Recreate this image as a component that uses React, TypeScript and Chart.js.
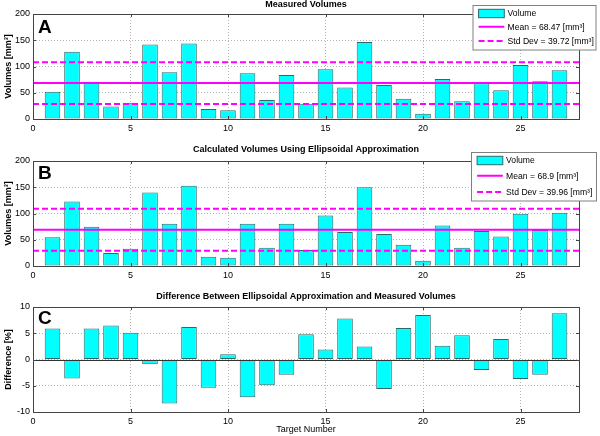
import React, { useEffect, useRef } from "react";
import { Chart, registerables } from "chart.js";

Chart.register(...registerables);

const FONT = "'Liberation Sans', Arial, Helvetica, sans-serif";

const targets = [1, 2, 3, 4, 5, 6, 7, 8, 9, 10, 11, 12, 13, 14, 15, 16, 17, 18, 19, 20, 21, 22, 23, 24, 25, 26, 27];
const measuredVolumes = [52, 128, 71, 24, 31, 142, 89, 144, 19, 16.5, 87, 36, 84, 29, 94.6, 60, 146.7, 64.8, 38.7, 10, 76, 34, 68, 55, 103, 72, 93];
const calculatedVolumes = [55, 123, 75, 25, 33, 140, 80.6, 153, 17.8, 15.9, 80.6, 35, 80.6, 30.5, 96, 65, 150, 61, 40.6, 10, 77, 35, 66.7, 56, 99.7, 68.6, 101.6];
const differencePct = [5.9, -3.6, 5.9, 6.5, 5.1, -0.9, -8.4, 6.2, -5.4, 1.0, -7.2, -4.9, -2.9, 4.8, 1.9, 7.8, 2.5, -5.6, 6.0, 8.5, 2.6, 4.6, -2.0, 3.9, -3.7, -2.9, 8.8];
const measuredMean = 68.47;
const measuredStd = 39.72;
const calculatedMean = 68.9;
const calculatedStd = 39.96;
const xTickValues = [0, 5, 10, 15, 20, 25];

type LegendSpec = { x: number; y: number; w: number; h: number; meanText: string; stdText: string };

type PanelSpec = {
  top: number;
  height: number;
  areaTop: number;
  areaBottom: number;
  title: string;
  titleY: number;
  letter: string;
  letterY: number;
  yMin: number;
  yMax: number;
  yStep: number;
  yTitle: string;
  values: number[];
  mean?: number;
  std?: number;
  legend?: LegendSpec;
  xTitle?: string;
  xTitleY?: number;
  zeroLine?: boolean;
};

const panels: PanelSpec[] = [
  {
    top: 0, height: 140, areaTop: 14, areaBottom: 119,
    title: "Measured Volumes", titleY: 5, letter: "A", letterY: 33,
    yMin: 0, yMax: 200, yStep: 50, yTitle: "Volumes [mm\u00B3]",
    values: measuredVolumes, mean: measuredMean, std: measuredStd,
    legend: { x: 473, y: 5.5, w: 123, h: 44.5, meanText: `Mean = ${measuredMean} [mm\u00B3]`, stdText: `Std Dev = ${measuredStd} [mm\u00B3]` },
  },
  {
    top: 140, height: 140, areaTop: 21, areaBottom: 126,
    title: "Calculated Volumes Using Ellipsoidal Approximation", titleY: 10, letter: "B", letterY: 39,
    yMin: 0, yMax: 200, yStep: 50, yTitle: "Volumes [mm\u00B3]",
    values: calculatedVolumes, mean: calculatedMean, std: calculatedStd,
    legend: { x: 471.5, y: 12.5, w: 125, h: 48.5, meanText: `Mean = ${calculatedMean} [mm\u00B3]`, stdText: `Std Dev = ${calculatedStd} [mm\u00B3]` },
  },
  {
    top: 280, height: 156, areaTop: 27, areaBottom: 132,
    title: "Difference Between Ellipsoidal Approximation and Measured Volumes", titleY: 17, letter: "C", letterY: 44,
    yMin: -10, yMax: 10, yStep: 5, yTitle: "Difference [%]",
    values: differencePct, xTitle: "Target Number", xTitleY: 150, zeroLine: true,
  },
];

const CYAN = "#00ffff";
const EDGE = "#2c6a6a";
const MAGENTA = "#ff00ff";

function makeDecor(spec: PanelSpec) {
  return {
    id: "decor" + spec.letter,
    afterDatasetsDraw(chart: any) {
      const { ctx, chartArea: a, scales } = chart;
      if (spec.zeroLine) {
        const y0 = Math.round(scales.y.getPixelForValue(0)) + 0.5;
        ctx.save();
        ctx.strokeStyle = "#333";
        ctx.lineWidth = 1;
        ctx.beginPath();
        ctx.moveTo(a.left, y0);
        ctx.lineTo(a.right, y0);
        ctx.stroke();
        ctx.restore();
      }
    },
    afterDraw(chart: any) {
      const { ctx, chartArea: a, scales } = chart;
      ctx.save();
      ctx.strokeStyle = "#444";
      ctx.lineWidth = 1;
      ctx.strokeRect(Math.round(a.left) + 0.5, Math.round(a.top) + 0.5, Math.round(a.right - a.left), Math.round(a.bottom - a.top));
      ctx.beginPath();
      xTickValues.forEach((v) => {
        const x = Math.round(scales.x.getPixelForValue(v)) + 0.5;
        ctx.moveTo(x, a.bottom);
        ctx.lineTo(x, a.bottom - 3);
        ctx.moveTo(x, a.top);
        ctx.lineTo(x, a.top + 3);
      });
      for (let v = spec.yMin; v <= spec.yMax; v += spec.yStep) {
        const y = Math.round(scales.y.getPixelForValue(v)) + 0.5;
        ctx.moveTo(a.left, y);
        ctx.lineTo(a.left + 3, y);
        ctx.moveTo(a.right, y);
        ctx.lineTo(a.right - 3, y);
      }
      ctx.stroke();

      ctx.fillStyle = "#000";
      ctx.font = `bold 9px ${FONT}`;
      ctx.textAlign = "center";
      ctx.textBaseline = "middle";
      ctx.fillText(spec.title, (a.left + a.right) / 2, spec.titleY);
      ctx.font = `bold 19px ${FONT}`;
      ctx.textAlign = "left";
      ctx.textBaseline = "alphabetic";
      ctx.fillText(spec.letter, 38, spec.letterY);
      ctx.save();
      ctx.translate(8.5, (a.top + a.bottom) / 2);
      ctx.rotate(-Math.PI / 2);
      ctx.font = `bold 9px ${FONT}`;
      ctx.textAlign = "center";
      ctx.textBaseline = "middle";
      ctx.fillText(spec.yTitle, 0, 0);
      ctx.restore();
      if (spec.xTitle) {
        ctx.font = `9px ${FONT}`;
        ctx.textAlign = "center";
        ctx.textBaseline = "middle";
        ctx.fillText(spec.xTitle, (a.left + a.right) / 2, spec.xTitleY as number);
      }
      const lg = spec.legend;
      if (lg) {
        ctx.fillStyle = "#fff";
        ctx.fillRect(lg.x, lg.y, lg.w, lg.h);
        ctx.strokeStyle = "#808080";
        ctx.lineWidth = 1;
        ctx.strokeRect(lg.x, lg.y, lg.w, lg.h);
        const px = lg.x + 5.6;
        const tx = lg.x + 34.6;
        const rowStep = (lg.h - 16) / 2;
        const r1 = lg.y + 8;
        const r2 = r1 + rowStep;
        const r3 = r2 + rowStep;
        ctx.fillStyle = CYAN;
        ctx.fillRect(px, r1 - 4.2, 25.7, 8.4);
        ctx.strokeStyle = EDGE;
        ctx.strokeRect(px, r1 - 4.2, 25.7, 8.4);
        ctx.strokeStyle = MAGENTA;
        ctx.lineWidth = 2;
        ctx.beginPath();
        ctx.moveTo(px, r2 - 1);
        ctx.lineTo(px + 25.7, r2 - 1);
        ctx.stroke();
        ctx.setLineDash([6, 3]);
        ctx.beginPath();
        ctx.moveTo(px, r3 - 1);
        ctx.lineTo(px + 25.7, r3 - 1);
        ctx.stroke();
        ctx.setLineDash([]);
        ctx.fillStyle = "#000";
        ctx.font = `8.6px ${FONT}`;
        ctx.textAlign = "left";
        ctx.textBaseline = "middle";
        ctx.fillText("Volume", tx, r1);
        ctx.fillText(lg.meanText, tx, r2);
        ctx.fillText(lg.stdText, tx, r3);
      }
      ctx.restore();
    },
  };
}

function Panel({ spec }: { spec: PanelSpec }) {
  const ref = useRef<HTMLCanvasElement | null>(null);
  useEffect(() => {
    if (!ref.current) return;
    const datasets: any[] = [
      {
        type: "bar",
        data: targets.map((t, i) => ({ x: t, y: spec.values[i] })),
        backgroundColor: CYAN,
        borderColor: EDGE,
        borderWidth: 1,
        borderSkipped: false,
        barPercentage: 0.8,
        categoryPercentage: 1,
        order: 2,
      },
    ];
    if (spec.mean !== undefined && spec.std !== undefined) {
      const lineDs = (y: number, dash: number[]) => ({
        type: "line",
        data: [{ x: 0, y }, { x: 28, y }],
        borderColor: MAGENTA,
        borderWidth: 2,
        borderDash: dash,
        pointRadius: 0,
        fill: false,
        order: 1,
      });
      datasets.push(lineDs(spec.mean, []));
      datasets.push(lineDs(spec.mean + spec.std, [6, 3]));
      datasets.push(lineDs(spec.mean - spec.std, [6, 3]));
    }
    const tickFont = { family: FONT, size: 9 };
    const chart = new Chart(ref.current, {
      type: "bar",
      data: { datasets },
      options: {
        animation: false,
        responsive: false,
        devicePixelRatio: 1,
        layout: { padding: { top: spec.areaTop, right: 21, left: 0, bottom: 0 } },
        plugins: { legend: { display: false }, tooltip: { enabled: false }, title: { display: false } },
        scales: {
          x: {
            type: "linear",
            min: 0,
            max: 28,
            offset: false,
            ticks: { stepSize: 5, font: tickFont, color: "#000", padding: 4, maxRotation: 0, autoSkip: false },
            grid: { color: "#b5b5b5", drawTicks: false, offset: false },
            border: { display: false, dash: [1, 2] },
            afterBuildTicks: (s: any) => {
              s.ticks = s.ticks.filter((t: any) => t.value % 5 === 0);
            },
            afterFit: (s: any) => {
              s.height = spec.height - spec.areaBottom;
            },
          },
          y: {
            type: "linear",
            min: spec.yMin,
            max: spec.yMax,
            ticks: { stepSize: spec.yStep, font: tickFont, color: "#000", padding: 3 },
            grid: { color: "#b5b5b5", drawTicks: false },
            border: { display: false, dash: [1, 2] },
            afterFit: (s: any) => {
              s.width = 33;
            },
          },
        },
      } as any,
      plugins: [makeDecor(spec)],
    });
    return () => chart.destroy();
  }, [spec]);
  return (
    <canvas
      ref={ref}
      width={600}
      height={spec.height}
      style={{ position: "absolute", left: 0, top: spec.top, width: 600, height: spec.height }}
    />
  );
}

export default function App() {
  return (
    <div style={{ position: "absolute", left: 0, top: 0, width: 600, height: 436, background: "#fff" }}>
      {panels.map((p) => (
        <Panel key={p.letter} spec={p} />
      ))}
    </div>
  );
}
